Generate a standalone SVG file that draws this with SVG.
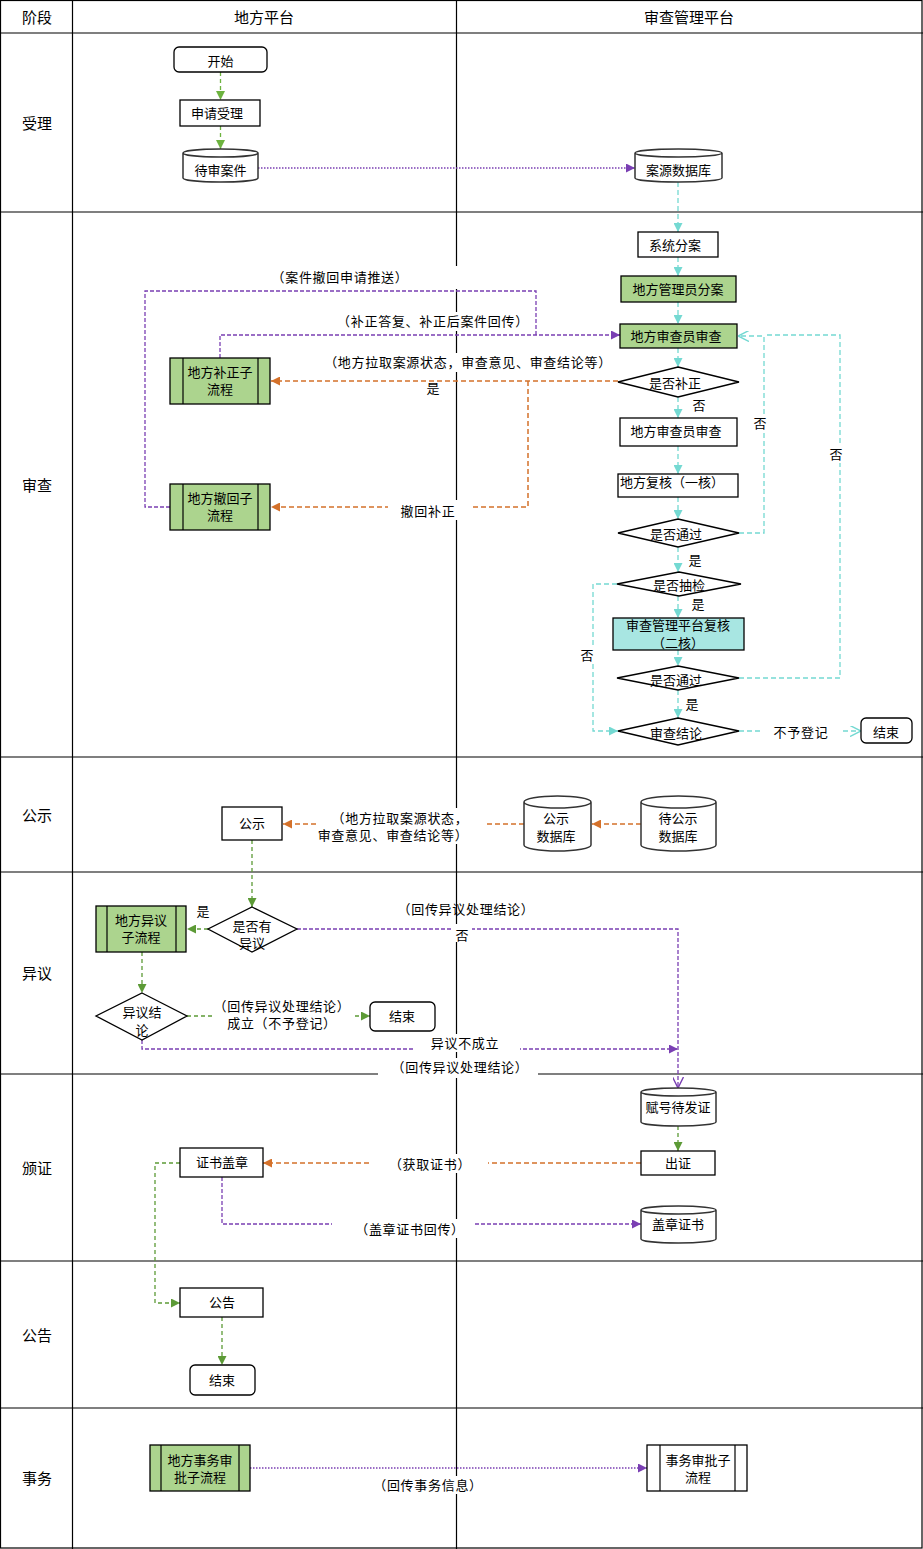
<svg xmlns="http://www.w3.org/2000/svg" width="923" height="1549" viewBox="0 0 923 1549">
<style>
text{font-family:"Noto Sans CJK SC","Liberation Sans",sans-serif;font-size:13px;fill:#000;text-anchor:middle;dominant-baseline:central}
.hd{font-size:15px}
.lw{letter-spacing:0.7px}
.node{fill:#fff;stroke:#000;stroke-width:1.3}
.grn{fill:#acd48e;stroke:#000;stroke-width:1.3}
.cyf{fill:#a8e6e2;stroke:#000;stroke-width:1.3}
.cyl{fill:#fff;stroke:#333;stroke-width:1.5}
.bg{fill:#fff;stroke:none}
.grid{stroke:#000;stroke-width:1.2;fill:none}
.cg{fill:none;stroke:#6db33f;stroke-width:1.3;stroke-dasharray:4,3}
.cg2{fill:none;stroke:#5c9a36;stroke-width:1.3;stroke-dasharray:4,3}
.cc{fill:none;stroke:#74d9d2;stroke-width:1.3;stroke-dasharray:5,3}
.co{fill:none;stroke:#d4712a;stroke-width:1.5;stroke-dasharray:5,3}
.cp{fill:none;stroke:#7a3fb3;stroke-width:1.3;stroke-dasharray:4,2}
.cpd{fill:none;stroke:#7a3fb3;stroke-width:1.5;stroke-dasharray:1.5,1.5}
</style>
<defs>
<marker id="ag" viewBox="0 0 10 10" refX="10" refY="5" markerWidth="9" markerHeight="9" markerUnits="userSpaceOnUse" orient="auto"><path d="M0,0 L10,5 L0,10 z" fill="#6db33f"/></marker>
<marker id="ag2" viewBox="0 0 10 10" refX="10" refY="5" markerWidth="9" markerHeight="9" markerUnits="userSpaceOnUse" orient="auto"><path d="M0,0 L10,5 L0,10 z" fill="#5c9a36"/></marker>
<marker id="ac" viewBox="0 0 10 10" refX="10" refY="5" markerWidth="9" markerHeight="9" markerUnits="userSpaceOnUse" orient="auto"><path d="M0,0 L10,5 L0,10 z" fill="#74d9d2"/></marker>
<marker id="aco" viewBox="0 0 10 10" refX="10" refY="5" markerWidth="11" markerHeight="11" markerUnits="userSpaceOnUse" orient="auto"><path d="M0,0 L10,5 L0,10" fill="none" stroke="#74d9d2" stroke-width="1.3"/></marker>
<marker id="ao" viewBox="0 0 10 10" refX="10" refY="5" markerWidth="9" markerHeight="9" markerUnits="userSpaceOnUse" orient="auto"><path d="M0,0 L10,5 L0,10 z" fill="#d4712a"/></marker>
<marker id="ap" viewBox="0 0 10 10" refX="10" refY="5" markerWidth="9" markerHeight="9" markerUnits="userSpaceOnUse" orient="auto"><path d="M0,0 L10,5 L0,10 z" fill="#7a3fb3"/></marker>
<marker id="apo" viewBox="0 0 10 10" refX="10" refY="5" markerWidth="11" markerHeight="11" markerUnits="userSpaceOnUse" orient="auto"><path d="M0,0 L10,5 L0,10" fill="none" stroke="#7a3fb3" stroke-width="1.3"/></marker>
</defs>
<rect x="0" y="0" width="923" height="1549" fill="#fff"/>
<g id="table">
<rect class="grid" x="0.5" y="0.5" width="921.5" height="1547.5"/>
<line class="grid" x1="72.5" y1="0" x2="72.5" y2="1549"/>
<line class="grid" x1="456.5" y1="0" x2="456.5" y2="1549"/>
<line class="grid" x1="0" y1="33" x2="923" y2="33"/>
<line class="grid" x1="0" y1="212" x2="923" y2="212"/>
<line class="grid" x1="0" y1="757" x2="923" y2="757"/>
<line class="grid" x1="0" y1="872" x2="923" y2="872"/>
<line class="grid" x1="0" y1="1074" x2="923" y2="1074"/>
<line class="grid" x1="0" y1="1261" x2="923" y2="1261"/>
<line class="grid" x1="0" y1="1408" x2="923" y2="1408"/>
<text class="hd" x="37" y="16">阶段</text>
<text class="hd" x="264" y="16">地方平台</text>
<text class="hd" x="689" y="16">审查管理平台</text>
<text class="hd" x="37" y="122">受理</text>
<text class="hd" x="37" y="484">审查</text>
<text class="hd" x="37" y="814">公示</text>
<text class="hd" x="37" y="972">异议</text>
<text class="hd" x="37" y="1167">颁证</text>
<text class="hd" x="37" y="1334">公告</text>
<text class="hd" x="37" y="1477">事务</text>
</g>
<g id="connectors">
<line class="cg" x1="220.5" y1="72" x2="220.5" y2="100" marker-end="url(#ag)"/>
<line class="cg" x1="220.5" y1="126" x2="220.5" y2="149" marker-end="url(#ag)"/>
<line class="cpd" x1="258" y1="168" x2="635" y2="168" marker-end="url(#ap)"/>
<line class="cc" x1="678" y1="182" x2="678" y2="232" marker-end="url(#ac)"/>
<line class="cc" x1="678" y1="257" x2="678" y2="276" marker-end="url(#ac)"/>
<line class="cc" x1="678" y1="302" x2="678" y2="324" marker-end="url(#ac)"/>
<line class="cc" x1="678" y1="348" x2="678" y2="367" marker-end="url(#ac)"/>
<line class="cc" x1="678" y1="397" x2="678" y2="418" marker-end="url(#ac)"/>
<line class="cc" x1="678" y1="446" x2="678" y2="474" marker-end="url(#ac)"/>
<line class="cc" x1="678" y1="497" x2="678" y2="519" marker-end="url(#ac)"/>
<line class="cc" x1="678" y1="547" x2="678" y2="572" marker-end="url(#ac)"/>
<line class="cc" x1="678" y1="596" x2="678" y2="618" marker-end="url(#ac)"/>
<line class="cc" x1="678" y1="650" x2="678" y2="666" marker-end="url(#ac)"/>
<line class="cc" x1="678" y1="690" x2="678" y2="718" marker-end="url(#ac)"/>
<polyline class="cc" points="739,533 764,533 764,336 738,336" marker-end="url(#aco)"/>
<polyline class="cc" points="739,678 840,678 840,335 764,335"/>
<polyline class="cc" points="617,584 593,584 593,731 618,731" marker-end="url(#ac)"/>
<line class="cc" x1="739" y1="731" x2="861" y2="731" marker-end="url(#aco)"/>
<line class="co" x1="618" y1="381" x2="271" y2="381" marker-end="url(#ao)"/>
<polyline class="co" points="528,381 528,507 271,507" marker-end="url(#ao)"/>
<polyline class="cp" points="220,358 220,335 620,335" marker-end="url(#ap)"/>
<polyline class="cp" points="170,507 145,507 145,291 536,291 536,335"/>
<line class="co" x1="524" y1="824" x2="283" y2="824" marker-end="url(#ao)"/>
<line class="co" x1="641" y1="824" x2="592" y2="824" marker-end="url(#ao)"/>
<line class="cg2" x1="252" y1="840" x2="252" y2="907" marker-end="url(#ag2)"/>
<line class="cg2" x1="208" y1="929" x2="187" y2="929" marker-end="url(#ag2)"/>
<line class="cg2" x1="142" y1="952" x2="142" y2="993" marker-end="url(#ag2)"/>
<line class="cg2" x1="187" y1="1016" x2="370" y2="1016" marker-end="url(#ag2)"/>
<polyline class="cp" points="142,1040 142,1049 678,1049" marker-end="url(#ap)"/>
<polyline class="cp" points="297,929 678,929 678,1088" marker-end="url(#apo)"/>
<line class="cg2" x1="678" y1="1126" x2="678" y2="1151" marker-end="url(#ag2)"/>
<line class="co" x1="641" y1="1163" x2="263" y2="1163" marker-end="url(#ao)"/>
<polyline class="cp" points="222,1177 222,1224 641,1224" marker-end="url(#ap)"/>
<polyline class="cg2" points="180,1163 155,1163 155,1303 180,1303" marker-end="url(#ag2)"/>
<line class="cg2" x1="222" y1="1317" x2="222" y2="1365" marker-end="url(#ag2)"/>
<line class="cpd" x1="250" y1="1468" x2="647" y2="1468" marker-end="url(#ap)"/>
</g>
<g id="labels">
<rect class="bg" x="272" y="266" width="190" height="23"/>
<text class="lw" x="340" y="276">（案件撤回申请推送）</text>
<rect class="bg" x="336" y="312" width="192" height="19"/>
<text class="lw" x="433" y="320">（补正答复、补正后案件回传）</text>
<rect class="bg" x="318" y="353" width="300" height="19"/>
<text class="lw" x="468" y="361">（地方拉取案源状态，审查意见、审查结论等）</text>
<text x="433" y="387">是</text>
<rect class="bg" x="388" y="500" width="82" height="20"/>
<text class="lw" x="428" y="510">撤回补正</text>
<text x="699" y="404">否</text>
<rect class="bg" x="752" y="414" width="16" height="18"/>
<text x="760" y="422">否</text>
<rect class="bg" x="828" y="445" width="16" height="18"/>
<text x="836" y="453">否</text>
<rect class="bg" x="579" y="646" width="16" height="18"/>
<text x="587" y="654">否</text>
<text x="695" y="559">是</text>
<text x="698" y="603">是</text>
<text x="692" y="703">是</text>
<rect class="bg" x="762" y="722" width="78" height="19"/>
<text class="lw" x="801" y="731">不予登记</text>
<rect class="bg" x="316" y="808" width="168" height="36"/>
<text class="lw" x="400" y="817">（地方拉取案源状态，</text>
<text class="lw" x="393" y="834">审查意见、审查结论等）</text>
<text x="203" y="910">是</text>
<text class="lw" x="466" y="908">（回传异议处理结论）</text>
<rect class="bg" x="452" y="924" width="20" height="18"/>
<text x="462" y="934">否</text>
<rect class="bg" x="212" y="996" width="142" height="36"/>
<text class="lw" x="282" y="1005">（回传异议处理结论）</text>
<text class="lw" x="282" y="1022">成立（不予登记）</text>
<rect class="bg" x="414" y="1034" width="106" height="18"/>
<text class="lw" x="465" y="1042">异议不成立</text>
<rect class="bg" x="378" y="1058" width="160" height="20"/>
<text class="lw" x="460" y="1066">（回传异议处理结论）</text>
<rect class="bg" x="372" y="1154" width="116" height="19"/>
<text class="lw" x="430" y="1163">（获取证书）</text>
<rect class="bg" x="332" y="1219" width="142" height="19"/>
<text class="lw" x="410" y="1228">（盖章证书回传）</text>
<rect class="bg" x="370" y="1476" width="118" height="18"/>
<text class="lw" x="428" y="1484">（回传事务信息）</text>
</g>
<g id="n-start"><rect class="node" x="174" y="47" width="93" height="25" rx="5"/><text x="220.5" y="60">开始</text></g>
<g id="n-apply"><rect class="node" x="180" y="100" width="80" height="26"/><text x="217" y="112">申请受理</text></g>
<g id="n-pending"><path class="cyl" d="M183,153 A37.5,4 0 0 1 258,153 V178 A37.5,4 0 0 1 183,178 Z M183,153 A37.5,4 0 0 0 258,153"/><text x="220.5" y="169">待审案件</text></g>
<g id="n-casedb"><path class="cyl" d="M635,153 A43.5,4 0 0 1 722,153 V178 A43.5,4 0 0 1 635,178 Z M635,153 A43.5,4 0 0 0 722,153"/><text x="678.5" y="169">案源数据库</text></g>
<g id="n-sysassign"><rect class="node" x="638" y="232" width="80" height="25"/><text x="675" y="244">系统分案</text></g>
<g id="n-adminassign"><rect class="grn" x="621" y="276" width="115" height="26"/><text x="678" y="288">地方管理员分案</text></g>
<g id="n-review1"><rect class="grn" x="620" y="324" width="117" height="24"/><text x="676" y="335">地方审查员审查</text></g>
<g id="n-dsupp"><polygon class="node" points="678,367 739,382 678,397 618,382"/><text x="675" y="382">是否补正</text></g>
<g id="n-review2"><rect class="node" x="620" y="418" width="117" height="28"/><text x="676" y="430">地方审查员审查</text></g>
<g id="n-recheck1"><rect class="node" x="618" y="474" width="120" height="23"/><text x="672" y="481">地方复核（一核）</text></g>
<g id="n-dpass1"><polygon class="node" points="678,519 739,533 678,547 618,533"/><text x="676" y="533">是否通过</text></g>
<g id="n-dsample"><polygon class="node" points="679,572 741,584 679,596 617,584"/><text x="679" y="584">是否抽检</text></g>
<g id="n-recheck2"><rect class="cyf" x="613" y="618" width="131" height="32"/><text x="678" y="624">审查管理平台复核</text><text x="678" y="642">（二核）</text></g>
<g id="n-dpass2"><polygon class="node" points="678,666 739,678 678,690 617,678"/><text x="676" y="679">是否通过</text></g>
<g id="n-conclusion"><polygon class="node" points="678,718 739,731 678,745 618,731"/><text x="676" y="732">审查结论</text></g>
<g id="n-end1"><rect class="node" x="861" y="718" width="51" height="25" rx="5"/><text x="886" y="731">结束</text></g>
<g id="n-suppsub"><rect class="grn" x="170" y="358" width="100" height="46"/><line class="grid" x1="183" y1="358" x2="183" y2="404"/><line class="grid" x1="258" y1="358" x2="258" y2="404"/><text x="220" y="371">地方补正子</text><text x="220" y="388">流程</text></g>
<g id="n-withdrawsub"><rect class="grn" x="170" y="484" width="100" height="46"/><line class="grid" x1="183" y1="484" x2="183" y2="530"/><line class="grid" x1="258" y1="484" x2="258" y2="530"/><text x="220" y="497">地方撤回子</text><text x="220" y="514">流程</text></g>
<g id="n-publicity"><rect class="node" x="222" y="807" width="60" height="33"/><text x="252" y="822">公示</text></g>
<g id="n-pubdb"><path class="cyl" d="M524,802 A33.5,6 0 0 1 591,802 V845 A33.5,6 0 0 1 524,845 Z M524,802 A33.5,6 0 0 0 591,802"/><text x="556" y="817">公示</text><text x="556" y="835">数据库</text></g>
<g id="n-pendpubdb"><path class="cyl" d="M641,802 A37.5,6 0 0 1 716,802 V845 A37.5,6 0 0 1 641,845 Z M641,802 A37.5,6 0 0 0 716,802"/><text x="678" y="817">待公示</text><text x="678" y="835">数据库</text></g>
<g id="n-dobjection"><polygon class="node" points="252,907 297,929 252,952 208,929"/><text x="252" y="925">是否有</text><text x="252" y="942">异议</text></g>
<g id="n-objsub"><rect class="grn" x="96" y="906" width="90" height="46"/><line class="grid" x1="107" y1="906" x2="107" y2="952"/><line class="grid" x1="176" y1="906" x2="176" y2="952"/><text x="141" y="919">地方异议</text><text x="141" y="936">子流程</text></g>
<g id="n-objconc"><polygon class="node" points="142,993 187,1016 142,1040 96,1016"/><text x="142" y="1011">异议结</text><text x="142" y="1029">论</text></g>
<g id="n-end2"><rect class="node" x="370" y="1002" width="65" height="29" rx="5"/><text x="402" y="1015">结束</text></g>
<g id="n-numbered"><path class="cyl" d="M641,1092 A37.5,4 0 0 1 716,1092 V1122 A37.5,4 0 0 1 641,1122 Z M641,1092 A37.5,4 0 0 0 716,1092"/><text x="678" y="1106">赋号待发证</text></g>
<g id="n-issue"><rect class="node" x="641" y="1151" width="74" height="24"/><text x="678" y="1162">出证</text></g>
<g id="n-seal"><rect class="node" x="180" y="1148" width="83" height="29"/><text x="222" y="1161">证书盖章</text></g>
<g id="n-sealed"><path class="cyl" d="M641,1210 A37.5,4 0 0 1 716,1210 V1239 A37.5,4 0 0 1 641,1239 Z M641,1210 A37.5,4 0 0 0 716,1210"/><text x="678" y="1223">盖章证书</text></g>
<g id="n-notice"><rect class="node" x="180" y="1288" width="83" height="29"/><text x="222" y="1301">公告</text></g>
<g id="n-end3"><rect class="node" x="190" y="1365" width="65" height="30" rx="5"/><text x="222" y="1379">结束</text></g>
<g id="n-affairsub"><rect class="grn" x="150" y="1445" width="100" height="46"/><line class="grid" x1="161" y1="1445" x2="161" y2="1491"/><line class="grid" x1="239" y1="1445" x2="239" y2="1491"/><text x="200" y="1459">地方事务审</text><text x="200" y="1476">批子流程</text></g>
<g id="n-affairsub2"><rect class="node" x="647" y="1445" width="100" height="46"/><line class="grid" x1="660" y1="1445" x2="660" y2="1491"/><line class="grid" x1="735" y1="1445" x2="735" y2="1491"/><text x="698" y="1459">事务审批子</text><text x="698" y="1476">流程</text></g>
</svg>
